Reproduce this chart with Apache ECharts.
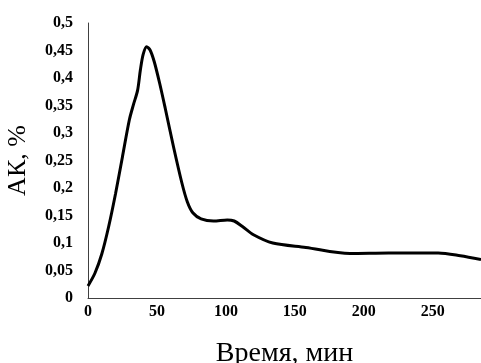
<!DOCTYPE html>
<html>
<head>
<meta charset="utf-8">
<script src="https://cdn.jsdelivr.net/npm/echarts@6/dist/echarts.min.js"></script>
<style>
html,body{margin:0;padding:0;background:#fff;}
#chart{width:481px;height:363px;}
</style>
</head>
<body>
<div id="chart"></div>
<script>
var timeMin = [0, 5, 10, 15, 20, 25, 30, 33, 36, 38, 40, 42.5, 45, 48, 52, 56, 62, 68, 72, 76, 82, 91, 101, 106, 112, 120, 134, 158, 190, 218, 254, 270, 285];
var akPercent = [0.022, 0.045, 0.08, 0.13, 0.19, 0.257, 0.324, 0.352, 0.378, 0.415, 0.443, 0.457, 0.451, 0.43, 0.39, 0.345, 0.275, 0.21, 0.175, 0.155, 0.144, 0.14, 0.142, 0.14, 0.13, 0.115, 0.1, 0.092, 0.081, 0.082, 0.082, 0.077, 0.07];
var xTitle = 'Время, мин';
var yTitle = 'АК, %';

var seriesData = timeMin.map(function (t, i) { return [t, akPercent[i]]; });
var chart = echarts.init(document.getElementById('chart'), null, {renderer: 'canvas'});
var serif = '"Liberation Serif", "Times New Roman", serif';
chart.setOption({
  animation: false,
  backgroundColor: '#fff',
  grid: {left: 88, right: 0, top: 23, bottom: 65, outerBoundsMode: 'none', containLabel: false},
  xAxis: {
    type: 'value', min: 0, max: 285, interval: 50,
    name: xTitle, nameLocation: 'middle', nameGap: 42,
    nameTextStyle: {fontFamily: serif, fontSize: 28, color: '#000'},
    axisLine: {show: true, lineStyle: {color: '#404040', width: 1}},
    axisTick: {show: false},
    splitLine: {show: false},
    axisLabel: {
      fontFamily: serif, fontWeight: 'bold', fontSize: 16, color: '#000', margin: 6,
      showMaxLabel: false
    }
  },
  yAxis: {
    type: 'value', min: 0, max: 0.5, interval: 0.05,
    name: yTitle, nameLocation: 'middle', nameGap: 57, nameRotate: 90,
    nameTextStyle: {fontFamily: serif, fontSize: 26, color: '#000'},
    axisLine: {show: true, lineStyle: {color: '#404040', width: 1}},
    axisTick: {show: false},
    splitLine: {show: false},
    axisLabel: {
      fontFamily: serif, fontWeight: 'bold', fontSize: 16, color: '#000', margin: 15,
      formatter: function (v) { return String(Math.round(v * 100) / 100).replace('.', ','); }
    }
  },
  series: [{
    type: 'line', data: seriesData, smooth: 0.3, showSymbol: false,
    lineStyle: {color: '#000', width: 3}
  }]
});
</script>
</body>
</html>
